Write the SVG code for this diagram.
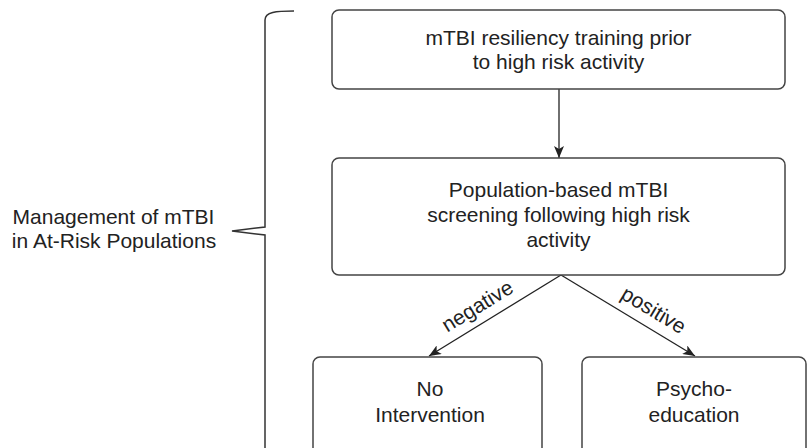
<svg xmlns="http://www.w3.org/2000/svg" width="807" height="448" viewBox="0 0 807 448">
  <defs>
    <marker id="arr" viewBox="0 0 12 10" refX="12" refY="5" markerWidth="12" markerHeight="10" markerUnits="userSpaceOnUse" orient="auto">
      <path d="M0,0 L12,5 L0,10 L3,5 Z" fill="#222"/>
    </marker>
    <style>
      .box { fill: #fff; stroke: #444; stroke-width: 1.5; }
      .t { font-family: "Liberation Sans", Arial, sans-serif; font-size: 21px; fill: #222; text-anchor: middle; }
      .edge { fill: none; stroke: #222; stroke-width: 1.3; }
      .brace { fill: none; stroke: #333; stroke-width: 1.5; }
    </style>
  </defs>
  <rect width="807" height="448" fill="#fff"/>

  <g id="brace">
    <path class="brace" d="M294,11 C276,11 265,12 265,20 V227 L232,231 L265,235 V448"/>
    <text class="t" x="113.5" y="223.5">Management of mTBI</text>
    <text class="t" x="114" y="248">in At-Risk Populations</text>
  </g>

  <g id="connectors">
    <line class="edge" x1="559" y1="89" x2="559" y2="158" marker-end="url(#arr)"/>
    <line class="edge" x1="561" y1="275" x2="429" y2="356" marker-end="url(#arr)"/>
    <line class="edge" x1="561" y1="275" x2="695" y2="356" marker-end="url(#arr)"/>
    <text class="t" transform="translate(478,307) rotate(-31.5)" x="0" y="6">negative</text>
    <text class="t" transform="translate(653,311) rotate(31)" x="0" y="6">positive</text>
  </g>

  <g id="node-training">
    <rect class="box" x="332" y="10" width="453" height="79" rx="7"/>
    <text class="t" x="558.5" y="45">mTBI resiliency training prior</text>
    <text class="t" x="558.5" y="69">to high risk activity</text>
  </g>

  <g id="node-screening">
    <rect class="box" x="332" y="158" width="453" height="117" rx="7"/>
    <text class="t" x="558.5" y="197">Population-based mTBI</text>
    <text class="t" x="558.5" y="222">screening following high risk</text>
    <text class="t" x="558.5" y="247">activity</text>
  </g>

  <g id="node-no-intervention">
    <rect class="box" x="313" y="357" width="229" height="100" rx="7"/>
    <text class="t" x="430" y="396">No</text>
    <text class="t" x="430" y="422">Intervention</text>
  </g>

  <g id="node-psychoeducation">
    <rect class="box" x="582" y="357" width="224" height="100" rx="7"/>
    <text class="t" x="694" y="396">Psycho-</text>
    <text class="t" x="694" y="422">education</text>
  </g>
</svg>
